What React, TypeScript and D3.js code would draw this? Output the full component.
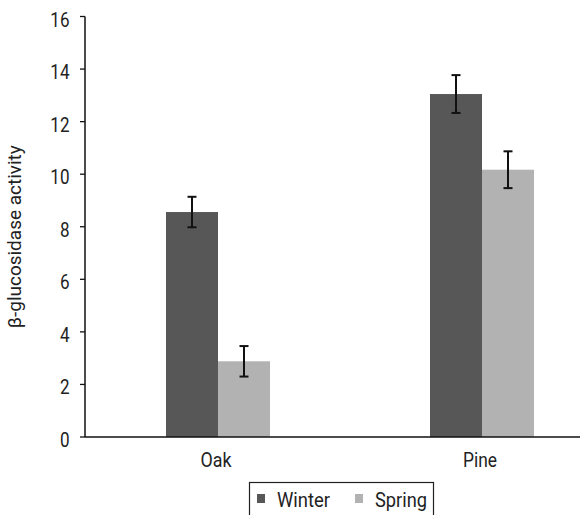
import React, { useEffect } from "react";
import * as d3 from "d3";

const categories = ["Oak", "Pine"];
const seriesNames = ["Winter", "Spring"];
const winterValues = [8.56, 13.05];
const springValues = [2.88, 10.17];
const winterErrors = [0.58, 0.72];
const springErrors = [0.58, 0.7];
const yTicks = [0, 2, 4, 6, 8, 10, 12, 14, 16];
const colors = ["#575757", "#b2b2b2"];

const W = 587;
const H = 515;
const FONT = "Roboto, 'Liberation Sans', sans-serif";

export default function App() {
  useEffect(() => {
    document.body.style.margin = "0";
  }, []);

  const x0 = 85;
  const y = d3.scaleLinear().domain([0, 16]).range([437, 16.5]);
  const xBand = d3.scaleBand<string>().domain(categories).range([86, 614]).paddingInner(0).paddingOuter(0);
  const xInner = d3.scaleBand<string>().domain(seriesNames).range([0, 104]);
  const groupOffset = (xBand.bandwidth() - 104) / 2;

  const series = [
    { name: "Winter", values: winterValues, errors: winterErrors },
    { name: "Spring", values: springValues, errors: springErrors },
  ];

  return (
    <svg width={W} height={H} style={{ display: "block", background: "#fff" }} fontFamily={FONT}>
      {/* y axis */}
      <line x1={x0} x2={x0} y1={y(16)} y2={y(0)} stroke="#111" strokeWidth={1.5} />
      {yTicks.map((t) => {
        const s = String(t);
        return (
          <g key={t}>
            <line x1={x0 - 5} x2={x0} y1={y(t)} y2={y(t)} stroke="#111" strokeWidth={1.3} />
            <text
              x={69.5 - s.length * 9.6}
              y={y(t) + 10}
              textLength={s.length * 9.6}
              lengthAdjust="spacingAndGlyphs"
              fontSize={20}
              fill="#222"
            >
              {s}
            </text>
          </g>
        );
      })}
      <text
        transform={`translate(21,${(y(0) + y(16)) / 2 + 10}) rotate(-90)`}
        x={-91.5}
        textLength={183}
        lengthAdjust="spacingAndGlyphs"
        fontSize={19}
        fill="#222"
      >
        β-glucosidase activity
      </text>

      {/* bars */}
      {categories.map((c, i) => (
        <g key={c} transform={`translate(${(xBand(c) as number) + groupOffset},0)`}>
          {series.map((s, si) => {
            const bx = xInner(s.name) as number;
            const bw = xInner.bandwidth();
            const v = s.values[i];
            const e = s.errors[i];
            const cx = bx + bw / 2;
            return (
              <g key={s.name}>
                <rect x={bx} y={y(v)} width={bw} height={y(0) - y(v)} fill={colors[si]} />
                <line x1={cx} x2={cx} y1={y(v + e)} y2={y(v - e)} stroke="#111" strokeWidth={2} />
                <line x1={cx - 4.5} x2={cx + 4.5} y1={y(v + e)} y2={y(v + e)} stroke="#111" strokeWidth={2} />
                <line x1={cx - 4.5} x2={cx + 4.5} y1={y(v - e)} y2={y(v - e)} stroke="#111" strokeWidth={2} />
              </g>
            );
          })}
        </g>
      ))}

      {/* x axis */}
      <line x1={x0} x2={580} y1={y(0)} y2={y(0)} stroke="#111" strokeWidth={1.5} />
      {categories.map((c, i) => {
        const w = i === 0 ? 31 : 34;
        const cx = (xBand(c) as number) + xBand.bandwidth() / 2 - 2;
        return (
          <text
            key={c}
            x={cx - w / 2}
            y={466.5}
            textLength={w}
            lengthAdjust="spacingAndGlyphs"
            fontSize={20}
            fill="#222"
          >
            {c}
          </text>
        );
      })}

      {/* legend */}
      <rect x={249.5} y={482.5} width={184} height={40} fill="#fff" stroke="#222" strokeWidth={1.2} />
      {seriesNames.map((n, i) => (
        <g key={n} transform={`translate(${257 + i * 98},0)`}>
          <rect x={0} y={494} width={8} height={9} fill={colors[i]} />
          <text
            x={20}
            y={507}
            textLength={i === 0 ? 53 : 52}
            lengthAdjust="spacingAndGlyphs"
            fontSize={20}
            fill="#222"
          >
            {n}
          </text>
        </g>
      ))}
    </svg>
  );
}
